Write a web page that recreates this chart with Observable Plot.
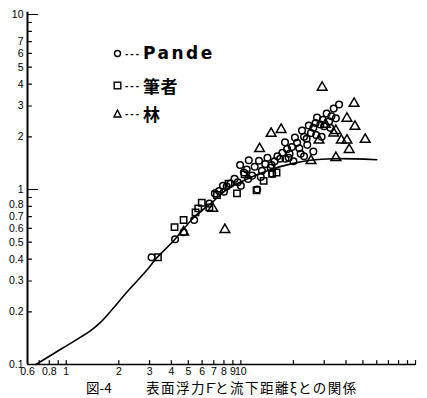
<!DOCTYPE html>
<html>
<head>
<meta charset="utf-8">
<script src="https://cdn.jsdelivr.net/npm/d3@7"></script>
<script src="https://cdn.jsdelivr.net/npm/@observablehq/plot@0.6"></script>
<style>
  html, body { margin: 0; padding: 0; background: white; }
  #wrap { position: relative; width: 427px; height: 398px; background: white; font-family: "Liberation Sans", sans-serif; }
  #legend { position: absolute; left: 112px; top: 40px; }
  .row { position: absolute; left: 0; white-space: nowrap; display: flex; align-items: center; height: 24px; }
  .mk { width: 10px; display: inline-flex; justify-content: center; align-items: center; }
  .dash { font-size: 10px; letter-spacing: 2px; margin: 0 2px 0 3px; font-weight: bold; }
  .lab { font-weight: bold; color: black; }
  #caption { position: absolute; left: 0; top: 379px; width: 427px; height: 16px; font-family: "Noto Sans CJK JP", sans-serif; font-size: 13.5px; line-height: 16px; }
</style>
</head>
<body>
<div id="wrap">
  <div id="chart"></div>
  <div id="legend"></div>
  <div id="caption"></div>
</div>
<script>
// ---- data ----
const curveXi = [0.67, 0.965, 1.38, 1.57, 1.79, 2.24, 2.88, 3.25, 4.12, 5.36, 6.9, 8.4, 9.9, 14.2, 20, 25, 34, 60];
const curveF  = [0.10, 0.125, 0.156, 0.174, 0.201, 0.261, 0.344, 0.40, 0.51, 0.69, 0.85, 1.01, 1.10, 1.28, 1.41, 1.47, 1.50, 1.48];

const pandeXi = [3.08, 4.2, 4.7, 5.4, 6.6, 7.1, 7.5, 7.9, 8.3, 8.7, 9.2, 9.6, 9.9, 10.4, 10.8, 11.1, 11.6, 12.0, 12.4, 12.7,
  13.2, 13.8, 14.2, 14.8, 15.1, 15.6, 16.2, 16.8, 17.3, 17.9, 18.4, 18.8, 19.0, 19.6, 20.4, 21.0, 21.6, 22.0, 22.4, 23.0,
  23.8, 24.0, 24.5, 25.2, 26.0, 26.8, 27.0, 27.3, 28.5, 29.5, 30.0, 31.0, 32.0, 33.0, 34.0, 35.0, 36.5, 11.0, 10.0, 8.0,
  15.0, 13.0, 18.0, 20.0, 23.0, 26.0, 29.0, 32.5];
const pandeF = [0.41, 0.52, 0.57, 0.67, 0.83, 0.95, 0.98, 1.05, 1.04, 1.08, 1.15, 1.10, 1.38, 1.25, 1.30, 1.47, 1.20, 1.35, 1.00, 1.46,
  1.28, 1.40, 1.52, 1.33, 1.23, 1.45, 1.55, 1.50, 1.62, 1.86, 1.70, 1.52, 1.60, 1.75, 1.98, 1.85, 1.72, 1.60, 2.17, 2.00,
  1.95, 1.80, 2.32, 2.10, 2.25, 2.40, 2.05, 2.58, 2.35, 2.50, 2.30, 2.72, 2.45, 2.62, 2.90, 2.55, 3.06, 1.15, 1.05, 0.97,
  1.38, 1.18, 1.50, 1.45, 1.55, 1.65, 2.00, 2.25];

const authorXi = [3.35, 4.17, 4.7, 5.5, 5.7, 5.97, 6.6, 7.3, 8.5, 9.5, 10.5, 12.3, 13.5, 15.1, 16.0];
const authorF  = [0.41, 0.61, 0.67, 0.74, 0.78, 0.84, 0.79, 0.93, 1.08, 0.95, 1.22, 0.99, 1.12, 1.23, 1.25];

const hayashiXi = [8.1, 6.9, 4.7, 12.8, 14.9, 17.0, 25.2, 28.0, 29.2, 34.0, 35.0, 35.0, 37.6, 40.5, 40.5, 41.7, 44.5, 45.0, 51.5, 30.5];
const hayashiF  = [0.59, 0.78, 0.57, 1.71, 2.09, 2.20, 1.46, 1.91, 3.83, 2.10, 2.17, 1.52, 1.91, 1.91, 2.55, 1.69, 3.10, 2.29, 1.93, 2.35];

const yTickValues = [0.1, 0.2, 0.3, 0.4, 0.5, 0.6, 0.7, 0.8, 1, 2, 3, 4, 5, 6, 7, 10];
const yTickLabels = ["0.1", "0.2", "0.3", "0.4", "0.5", "0.6", "0.7", "0.8", "1", "2", "3", "4", "5", "6", "7", "10"];
const yMajorValues = [1, 10];
const yMinorValues = [0.2, 0.3, 0.4, 0.5, 0.6, 0.7, 0.8, 0.9, 2, 3, 4, 5, 6, 7, 8, 9];
const xTickValues = [0.6, 0.8, 1, 2, 3, 4, 5, 6, 7, 8, 9, 10];
const xTickLabels = ["0.6", "0.8", "1", "2", "3", "4", "5", "6", "7", "8", "9", "10"];
const xMinorValues = [0.7, 0.8, 0.9, 1, 2, 3, 4, 5, 6, 7, 8, 9, 10, 20, 30, 40, 50, 60, 70, 80, 90, 100];

const legendNames = ["Pande", "筆者", "林"];
const captionNum = "図-4";
const captionText = "表面浮力F̄と流下距離ξとの関係";

// ---- build ----
const zip = (xs, ys) => xs.map((x, i) => ({xi: x, f: ys[i]}));
const curve = zip(curveXi, curveF);
const pande = zip(pandeXi, pandeF);
const author = zip(authorXi, authorF);
const hayashi = zip(hayashiXi, hayashiF);
const yTicks = yTickValues.map((v, i) => ({v, label: yTickLabels[i]}));
const yTicksMain = yTicks.filter(d => d.v !== 0.8);
const yTicksTight = yTicks.filter(d => d.v === 0.8);
const xTicks = xTickValues.map((v, i) => ({v, label: xTickLabels[i]}));

const tickShape = {draw(context, l) { context.moveTo(0, 0); context.lineTo(0, -l); }};

const chart = Plot.plot({
  width: 427,
  height: 378,
  marginLeft: 27,
  marginRight: 12,
  marginTop: 14,
  marginBottom: 14,
  style: {fontFamily: "Liberation Sans, sans-serif", fontSize: "9.5px", background: "white", color: "black"},
  x: {type: "log", domain: [0.6, 100], axis: null},
  y: {type: "log", domain: [0.1, 10], axis: null},
  marks: [
    // axis lines
    Plot.ruleX([0.6], {y1: 0.1, y2: 10.3, stroke: "black", strokeWidth: 2}),
    Plot.ruleY([0.1], {stroke: "black", strokeWidth: 1.6}),
    // inward tick marks
    Plot.vector(yMinorValues, {y: d => d, frameAnchor: "left", length: 4, rotate: 90, anchor: "start", shape: tickShape, stroke: "black", strokeWidth: 1.2}),
    Plot.vector(yMajorValues, {y: d => d, frameAnchor: "left", length: 10, rotate: 90, anchor: "start", shape: tickShape, stroke: "black", strokeWidth: 1.2}),
    Plot.vector(xMinorValues, {x: d => d, frameAnchor: "bottom", length: 4, rotate: 0, anchor: "start", shape: tickShape, stroke: "black", strokeWidth: 1.2}),
    // tick labels
    Plot.text(yTicksMain, {y: "v", text: "label", frameAnchor: "left", dx: -4, textAnchor: "end", fill: "black", fontSize: 10.5}),
    Plot.text(yTicksTight, {y: "v", text: "label", frameAnchor: "left", dx: -4, dy: -1.5, textAnchor: "end", fill: "black", fontSize: 10.5}),
    Plot.text(xTicks, {x: "v", text: "label", frameAnchor: "bottom", dy: 7, lineAnchor: "middle", fill: "black", fontSize: 10.5}),
    // data
    Plot.line(curve, {x: "xi", y: "f", stroke: "black", strokeWidth: 1.6, curve: "catmull-rom"}),
    Plot.dot(pande, {x: "xi", y: "f", symbol: "circle", r: 3.3, stroke: "black", strokeWidth: 1.5, fill: "none"}),
    Plot.dot(author, {x: "xi", y: "f", symbol: "square", r: 3.6, stroke: "black", strokeWidth: 1.5, fill: "none"}),
    Plot.dot(hayashi, {x: "xi", y: "f", symbol: "triangle", r: 3.6, stroke: "black", strokeWidth: 1.5, fill: "none"})
  ]
});
document.getElementById("chart").appendChild(chart);

// legend
const markers = [
  '<svg width="9" height="9"><circle cx="4.5" cy="4.5" r="3" fill="none" stroke="black" stroke-width="1.4"/></svg>',
  '<svg width="9" height="9"><rect x="1.2" y="1.2" width="6.6" height="6.6" fill="none" stroke="black" stroke-width="1.4"/></svg>',
  '<svg width="9" height="9"><path d="M4.5,1 L8,8 L1,8 Z" fill="none" stroke="black" stroke-width="1.4"/></svg>'
];
const rowTops = [1, 33, 61];
const legend = document.getElementById("legend");
legendNames.forEach((name, i) => {
  const row = document.createElement("div");
  row.className = "row";
  row.style.top = rowTops[i] + "px";
  const isLatin = i === 0;
  row.innerHTML = `<span class="mk">${markers[i]}</span><span class="dash">---</span>` +
    `<span class="lab" style="font-family:${isLatin ? "'DejaVu Sans'" : "'Noto Sans CJK JP'"};font-size:17px;letter-spacing:${isLatin ? 2.5 : 0.5}px">${name}</span>`;
  legend.appendChild(row);
});

// caption
const cap = document.getElementById("caption");
cap.innerHTML = `<span style="position:absolute;left:86px;">${captionNum}</span>` +
  `<span style="position:absolute;left:146px;letter-spacing:1.5px;">${captionText}</span>`;
</script>
</body>
</html>
